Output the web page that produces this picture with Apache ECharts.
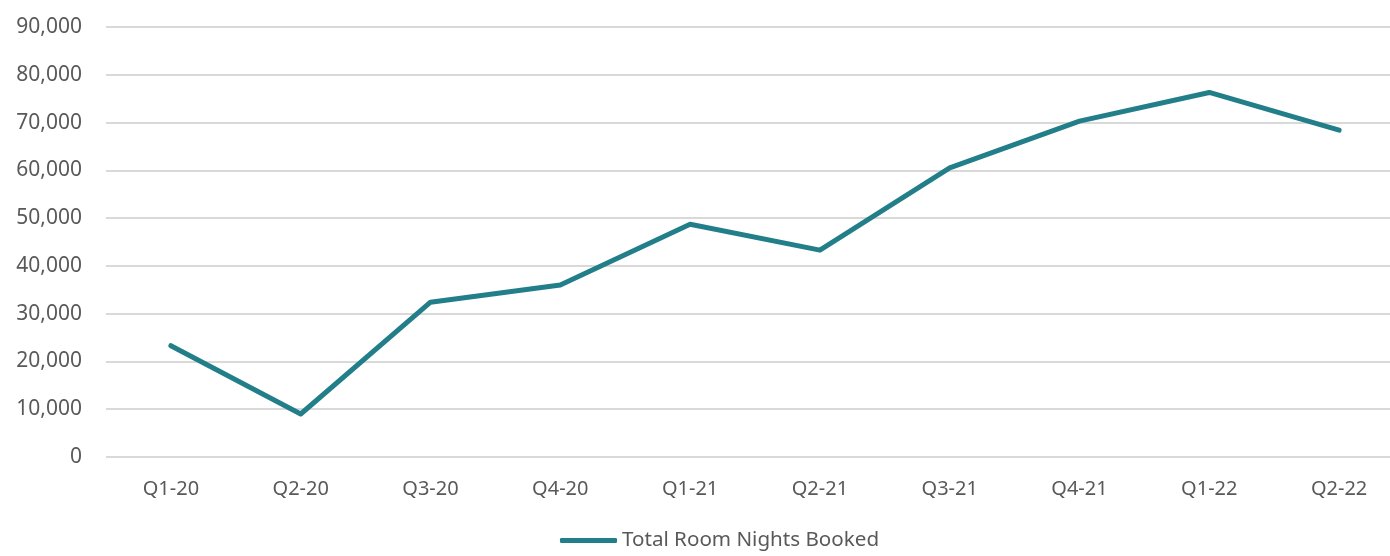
<!DOCTYPE html>
<html>
<head>
<meta charset="utf-8">
<script src="https://cdn.jsdelivr.net/npm/echarts@6/dist/echarts.min.js"></script>
<style>
  html, body { margin: 0; padding: 0; background: #fff; overflow: hidden; }
  /* plot area runs a bit past the right edge of the window, like the original */
  #main { width: 1404px; height: 556px; }
</style>
</head>
<body>
<div id="main"></div>
<script>
const quarters = ['Q1-20', 'Q2-20', 'Q3-20', 'Q4-20', 'Q1-21', 'Q2-21', 'Q3-21', 'Q4-21', 'Q1-22', 'Q2-22']
const roomNights = [23300, 9000, 32400, 36000, 48700, 43300, 60500, 70300, 76300, 68400]
const seriesName = 'Total Room Nights Booked'

const textColor = '#595959'
const lineColor = '#227f8a'

let chart = echarts.init(document.getElementById('main'))
chart.setOption({
  animation: false,
  textStyle: { fontFamily: 'Noto Sans' },
  grid: { left: 106, right: 0, top: 27, bottom: 99 },
  legend: {
    bottom: 0,
    left: 555,
    itemWidth: 57,
    itemHeight: 5,
    itemGap: 4,
    icon: 'roundRect',
    textStyle: { color: textColor, fontSize: 20.6, fontFamily: 'Noto Sans' },
    data: [seriesName]
  },
  xAxis: {
    type: 'category',
    data: quarters,
    boundaryGap: true,
    axisLine: { show: false },
    axisTick: { show: false },
    axisLabel: { color: textColor, fontSize: 20, margin: 22 }
  },
  yAxis: {
    type: 'value',
    min: 0,
    max: 90000,
    interval: 10000,
    axisLine: { show: false },
    axisTick: { show: false },
    axisLabel: {
      color: textColor,
      fontSize: 21,
      margin: 24,
      formatter: v => v.toLocaleString('en-US')
    },
    splitLine: { lineStyle: { color: '#d9d9d9', width: 2 } }
  },
  series: [
    {
      name: seriesName,
      type: 'line',
      data: roomNights,
      symbol: 'none',
      lineStyle: { color: lineColor, width: 5, cap: 'round', join: 'round' },
      itemStyle: { color: lineColor }
    }
  ]
})
</script>
</body>
</html>
